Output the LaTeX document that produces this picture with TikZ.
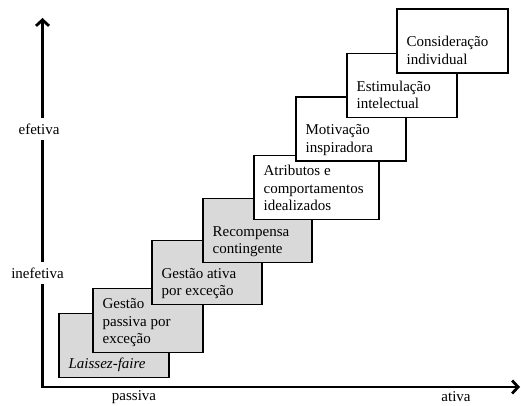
\documentclass[tikz,border=0pt]{standalone}
\usepackage{fontspec}
\setmainfont{Liberation Serif}
\usetikzlibrary{positioning,arrows.meta}
\definecolor{boxgray}{RGB}{217,217,217}

\begin{document}
\begin{tikzpicture}[x=1pt,y=1pt,
    stage/.style={draw, line width=1.2pt, minimum width=110pt, minimum height=64pt, inner sep=0pt},
    passive/.style={stage, fill=boxgray},
    active/.style={stage, fill=white},
    stagetext/.style={inner sep=0pt, align=left, font=\fontsize{15}{17.5}\selectfont, execute at end node=\strut},
    axislabel/.style={fill=white, inner xsep=1pt, inner ysep=6pt, font=\fontsize{15}{17.5}\selectfont}]
    \useasboundingbox (0,0) rectangle (521,406);

    % Axes
    \coordinate (origin) at (42.5,19);
    \coordinate (ytip) at (42.5,388);
    \coordinate (xtip) at (520,19);
    \draw[line width=2.8pt, {Straight Barb[length=6pt,width=13pt]}-{Straight Barb[length=6pt,width=13pt]}] (ytip) -- (origin) -- (xtip);

    \node[axislabel] (eff) at (39,277) {efetiva};
    \node[axislabel] (ineff) at (37.5,133) {inefetiva};
    \node[axislabel, fill=none] (pas) at (134,9) {passiva};
    \node[axislabel, fill=none] (atv) at (456,9) {ativa};

    % Passive stages
    \node[passive] (laissez) at (114,60.5) {};
    \node[stagetext, above right=4pt and 10pt of laissez.south west] (laissezt) {\textit{Laissez-faire}};
    \node[passive] (gpass) at (148,85.5) {};
    \node[stagetext, above right=4pt and 10pt of gpass.south west] (gpasst) {Gestão\\passiva por\\exceção};
    \node[passive] (gativa) at (207,133.5) {};
    \node[stagetext, above right=4pt and 10pt of gativa.south west] (gativat) {Gestão ativa\\por exceção};
    \node[passive, minimum width=109pt] (recomp) at (257.5,175.5) {};
    \node[stagetext, above right=4pt and 10pt of recomp.south west] (recompt) {Recompensa\\contingente};

    % Active stages
    \node[active, minimum width=125pt] (atrib) at (316.5,218.5) {};
    \node[stagetext, above right=4pt and 10pt of atrib.south west] (atribt) {Atributos e\\comportamentos\\idealizados};
    \node[active] (motiv) at (351,277) {};
    \node[stagetext, above right=4pt and 10pt of motiv.south west] (motivt) {Motivação\\inspiradora};
    \node[active] (estim) at (402,320.5) {};
    \node[stagetext, above right=4pt and 10pt of estim.south west] (estimt) {Estimulação\\intelectual};
    \node[active, minimum width=111pt] (consid) at (452.5,365) {};
    \node[stagetext, above right=4pt and 10pt of consid.south west] (considt) {Consideração\\individual};
\end{tikzpicture}
\end{document}
